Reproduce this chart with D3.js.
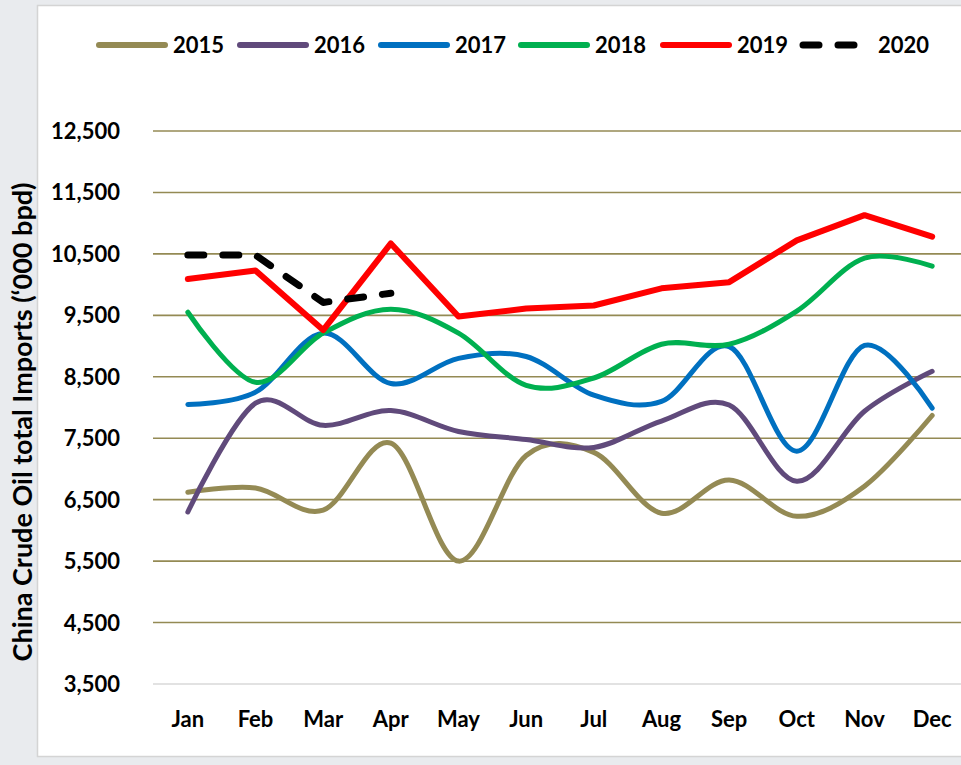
<!DOCTYPE html>
<html>
<head>
<meta charset="utf-8">
<script src="https://cdn.jsdelivr.net/npm/d3@7"></script>
<style>
  body { margin: 0; background: #e9ebee; }
  svg { display: block; }
</style>
</head>
<body>
<div id="chart"></div>
<script>
var months = ["Jan", "Feb", "Mar", "Apr", "May", "Jun", "Jul", "Aug", "Sep", "Oct", "Nov", "Dec"];
var yTicks = [3500, 4500, 5500, 6500, 7500, 8500, 9500, 10500, 11500, 12500];

var y2015 = [6620, 6690, 6330, 7420, 5500, 7220, 7270, 6280, 6820, 6230, 6720, 7870];
var y2016 = [6300, 8070, 7710, 7950, 7610, 7480, 7350, 7780, 8040, 6800, 7940, 8590];
var y2017 = [8050, 8250, 9210, 8390, 8800, 8830, 8200, 8100, 8990, 7290, 9010, 7990];
var y2018 = [9550, 8410, 9210, 9600, 9210, 8360, 8480, 9030, 9030, 9570, 10430, 10300];
var y2019 = [10090, 10230, 9260, 10670, 9480, 9610, 9660, 9940, 10040, 10720, 11130, 10780];
var y2020 = [10480, 10480, 9710, 9860];

var seriesNames = ["2015", "2016", "2017", "2018", "2019", "2020"];
var seriesValues = [y2015, y2016, y2017, y2018, y2019, y2020];
var seriesColors = ["#948a54", "#604a7b", "#0070c0", "#00b050", "#ff0000", "#000000"];

var W = 961, H = 765;
var font = "Lato, 'Open Sans', sans-serif";

var svg = d3.select("#chart").append("svg").attr("width", W).attr("height", H);

// white panel
svg.append("rect").attr("x", 37.5).attr("y", 5.5).attr("width", 940).attr("height", 751)
    .attr("fill", "white").attr("stroke", "#d4d4d4").attr("stroke-width", 1.5);

var x = d3.scaleBand().domain(months).range([154, 966]).padding(0);
var y = d3.scaleLinear().domain([3500, 12500]).range([684, 131]);
var xc = function(i) { return x(months[i]) + x.bandwidth() / 2; };

// gridlines
svg.append("g").selectAll("line").data(yTicks).enter().append("line")
    .attr("x1", 153).attr("x2", W)
    .attr("y1", d => y(d)).attr("y2", d => y(d))
    .attr("stroke", d => d == 3500 ? "#d9d9d9" : "#948a54")
    .attr("stroke-width", 1.6);

// y tick labels
svg.append("g").selectAll("text").data(yTicks).enter().append("text")
    .attr("x", 120).attr("y", d => y(d) + 8)
    .attr("text-anchor", "end")
    .style("font-family", font).style("font-weight", "bold").style("font-size", "22px")
    .text(d => d3.format(",")(d));

// x labels
svg.append("g").selectAll("text").data(months).enter().append("text")
    .attr("x", d => x(d) + x.bandwidth() / 2).attr("y", 727)
    .attr("text-anchor", "middle")
    .style("font-family", font).style("font-weight", "bold").style("font-size", "22px")
    .text(d => d);

// y title
svg.append("text")
    .attr("transform", "translate(32,422) rotate(-90)")
    .attr("text-anchor", "middle")
    .style("font-family", font).style("font-weight", "bold").style("font-size", "27px")
    .text("China Crude Oil total Imports (\u2018000 bpd)");

// lines
var smooth = d3.line().x((d, i) => xc(i)).y(d => y(d)).curve(d3.curveCatmullRom.alpha(0));
var straight = d3.line().x((d, i) => xc(i)).y(d => y(d));

seriesValues.forEach(function(vals, k) {
    var isStraight = k >= 4;
    svg.append("path").datum(vals)
        .attr("d", isStraight ? straight : smooth)
        .attr("fill", "none")
        .attr("stroke", seriesColors[k])
        .attr("stroke-width", k == 5 ? 7 : (k == 4 ? 6 : 5))
        .attr("stroke-linecap", "round")
        .attr("stroke-linejoin", "round")
        .attr("stroke-dasharray", k == 5 ? "16,19" : null);
});

// legend
var legendX = [96, 237, 378, 518, 660, 800];
var legend = svg.append("g");
seriesNames.forEach(function(name, k) {
    var lx = legendX[k];
    legend.append("line")
        .attr("x1", lx + 3).attr("x2", lx + (k == 5 ? 58 : 69))
        .attr("y1", 45).attr("y2", 45)
        .attr("stroke", seriesColors[k]).attr("stroke-width", k == 5 ? 7 : 6)
        .attr("stroke-linecap", "round")
        .attr("stroke-dasharray", k == 5 ? "16,19" : null);
    legend.append("text")
        .attr("x", k == 5 ? lx + 78 : lx + 77).attr("y", 53)
        .style("font-family", font).style("font-weight", "bold").style("font-size", "22px")
        .text(name);
});
</script>
</body>
</html>
